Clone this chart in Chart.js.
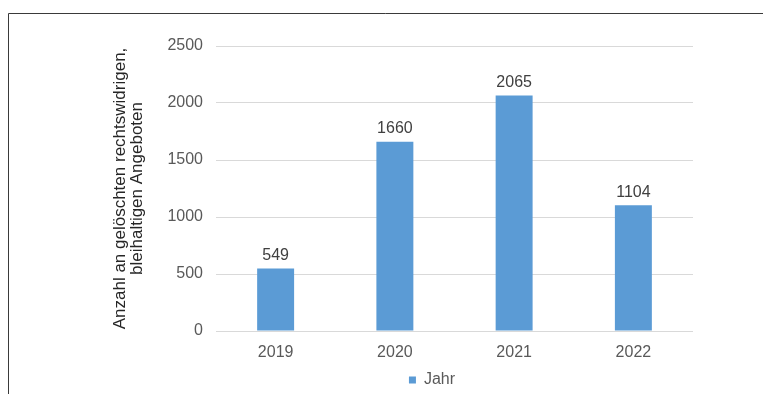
<!DOCTYPE html>
<html lang="de">
<head>
<meta charset="utf-8">
<title>Gelöschte bleihaltige Angebote</title>
<script src="https://cdn.jsdelivr.net/npm/chart.js@4/dist/chart.umd.min.js"></script>
<style>
  html, body { margin: 0; padding: 0; background: #fff; }
  #wrap { position: relative; width: 763px; height: 394px; }
</style>
</head>
<body>
<div id="wrap"><canvas id="angeboteChart"></canvas></div>
<script>
const jahre = ["2019", "2020", "2021", "2022"];
const geloeschteAngebote = [549, 1660, 2065, 1104];
const serienName = "Jahr";
const achsenTitel = ["Anzahl an gelöschten rechtswidrigen,", "bleihaltigen Angeboten"];

const textFont = "'Liberation Sans', Arial, sans-serif";

// Rahmenlinien oben und links
const rahmen = {
  id: "rahmen",
  beforeDraw(chart) {
    const ctx = chart.ctx;
    ctx.save();
    ctx.strokeStyle = "#3a3a3a";
    ctx.lineWidth = 1;
    ctx.beginPath();
    ctx.moveTo(8.5, chart.height);
    ctx.lineTo(8.5, 13.5);
    ctx.lineTo(chart.width, 13.5);
    ctx.stroke();
    ctx.restore();
  },
};

// Werte über den Balken
const werteLabels = {
  id: "werteLabels",
  afterDatasetsDraw(chart) {
    const ctx = chart.ctx;
    const meta = chart.getDatasetMeta(0);
    ctx.save();
    ctx.font = "16px " + textFont;
    ctx.fillStyle = "#404040";
    ctx.textAlign = "center";
    ctx.textBaseline = "middle";
    meta.data.forEach((bar, i) => {
      ctx.fillText(String(chart.data.datasets[0].data[i]), bar.x, bar.y - 13);
    });
    ctx.restore();
  },
};

new Chart(document.getElementById("angeboteChart"), {
  type: "bar",
  data: {
    labels: jahre,
    datasets: [
      {
        label: serienName,
        data: geloeschteAngebote,
        backgroundColor: "#5b9bd5",
        borderWidth: 0,
        categoryPercentage: 1,
        barPercentage: 0.31,
      },
    ],
  },
  options: {
    responsive: true,
    maintainAspectRatio: false,
    animation: false,
    layout: { padding: { left: 112, right: 11, top: 46, bottom: -4 } },
    plugins: {
      legend: {
        position: "bottom",
        labels: {
          boxWidth: 7,
          boxHeight: 7,
          padding: 4,
          color: "#595959",
          font: { family: textFont, size: 16 },
        },
      },
      tooltip: { enabled: false },
    },
    scales: {
      x: {
        afterFit(scale) {
          scale.height = 37;
        },
        grid: { display: false, drawTicks: false },
        border: { display: false },
        ticks: {
          padding: 12,
          color: "#595959",
          font: { family: textFont, size: 16 },
        },
      },
      y: {
        min: 0,
        max: 2500,
        afterFit(scale) {
          scale.width = 104;
        },
        grid: { color: "#d9d9d9", drawTicks: false },
        border: { display: false },
        ticks: {
          stepSize: 500,
          padding: 13,
          color: "#595959",
          font: { family: textFont, size: 16 },
          callback: (value) => String(value),
        },
        title: {
          display: true,
          text: achsenTitel,
          color: "#262626",
          padding: 0,
          font: { family: textFont, size: 17, lineHeight: 1.0 },
        },
      },
      // leerer Rand rechts neben dem Diagramm
      rand: {
        type: "linear",
        position: "right",
        afterFit(scale) {
          scale.width = 59;
        },
        grid: { display: false, drawTicks: false },
        border: { display: false },
        ticks: { display: false },
      },
    },
  },
  plugins: [rahmen, werteLabels],
});
</script>
</body>
</html>
